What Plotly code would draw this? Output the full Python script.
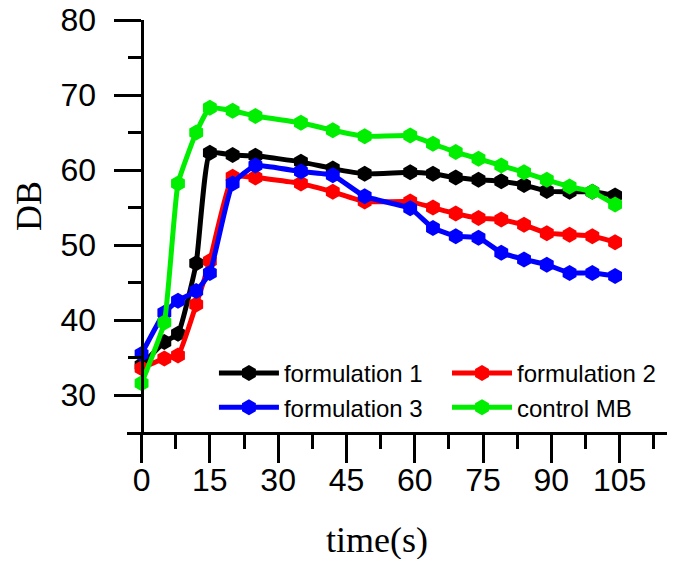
import plotly.graph_objects as go

# sampling times (s), shared by all series
time_s = [0, 5, 8, 12, 15, 20, 25, 35, 42, 49, 59, 64, 69, 74, 79, 84, 89, 94, 99, 104]

formulation_1 = [34.0, 37.1, 38.2, 47.6, 62.3, 62.0, 61.9, 61.1, 60.2, 59.5,
                 59.7, 59.5, 59.0, 58.7, 58.5, 58.0, 57.2, 57.1, 57.1, 56.6]
formulation_2 = [33.6, 34.9, 35.3, 42.1, 47.9, 59.1, 59.0, 58.2, 57.1, 55.8,
                 55.8, 55.0, 54.2, 53.6, 53.4, 52.7, 51.6, 51.4, 51.2, 50.4]
formulation_3 = [35.5, 41.0, 42.6, 43.9, 46.3, 58.2, 60.6, 59.8, 59.3, 56.5,
                 54.9, 52.3, 51.2, 51.0, 49.0, 48.1, 47.4, 46.3, 46.3, 45.9]
control_mb = [31.6, 39.7, 58.2, 65.0, 68.3, 67.9, 67.2, 66.3, 65.3, 64.5,
              64.6, 63.5, 62.4, 61.5, 60.6, 59.7, 58.7, 57.8, 57.1, 55.4]

x_ticks = [0, 15, 30, 45, 60, 75, 90, 105]
y_ticks = [30, 40, 50, 60, 70, 80]

# (name, values, colour, legend) - two legends give the 2x2 layout
series = [
    ("formulation 1", formulation_1, "#000000", "legend"),
    ("formulation 2", formulation_2, "#ff0000", "legend2"),
    ("formulation 3", formulation_3, "#0000ff", "legend"),
    ("control MB", control_mb, "#00ee00", "legend2"),
]

fig = go.Figure()
for name, vals, color, leg in series:
    fig.add_trace(go.Scatter(
        x=time_s, y=vals, name=name, mode="lines+markers",
        line=dict(color=color, width=5, shape="spline", smoothing=0.4),
        marker=dict(symbol="hexagon", size=16, color=color),
        legend=leg,
    ))

X_RANGE = [-3.2, 115.4]
axis_font = dict(family="Liberation Sans, Arial, sans-serif", size=32, color="black")
legend_font = dict(family="Liberation Sans, Arial", size=24, color="black")

# page body has an 8px margin on every side; keep the figure inside the window
OFF = 8
W, H = 659, 551
pl, pr, pt, pb = 119, 0, 12, 127

fig.update_layout(
    width=W, height=H,
    margin=dict(l=pl, r=pr, t=pt, b=pb),
    plot_bgcolor="white", paper_bgcolor="white",
    xaxis=dict(
        range=X_RANGE, tickvals=x_ticks, showgrid=False, zeroline=False, automargin=False,
        showline=True, linecolor="black", linewidth=3,
        ticks="outside", ticklen=28, tickwidth=3, tickcolor="black",
        minor=dict(ticks="outside", ticklen=14, tickwidth=3, tickcolor="black", dtick=7.5, tick0=0),
        tickfont=axis_font, ticklabelstandoff=-10, ticklabeloverflow="allow",
    ),
    yaxis=dict(
        range=[25.1, 80], tickvals=y_ticks, showgrid=False, zeroline=False, automargin=False,
        anchor="free", position=(0 - X_RANGE[0]) / (X_RANGE[1] - X_RANGE[0]),
        showline=True, linecolor="black", linewidth=3,
        ticks="outside", ticklen=27, tickwidth=3, tickcolor="black",
        minor=dict(ticks="outside", ticklen=13, tickwidth=3, tickcolor="black", dtick=5, tick0=0),
        tickfont=axis_font, ticklabelstandoff=11, ticklabeloverflow="allow",
    ),
    # legends must stay inside the figure, otherwise they push the right margin
    legend=dict(x=0.161, y=0.197, xanchor="left", yanchor="top",
                bgcolor="rgba(0,0,0,0)", font=legend_font, itemwidth=60, tracegroupgap=0),
    legend2=dict(x=0.5926, y=0.197, xanchor="left", yanchor="top",
                 bgcolor="rgba(0,0,0,0)", font=legend_font, itemwidth=60, tracegroupgap=0),
    annotations=[
        dict(text="time(s)", x=377, y=540, xref="paper", yref="paper", showarrow=False,
             xanchor="center", yanchor="middle",
             font=dict(family="Liberation Serif, Times New Roman, serif", size=36, color="black")),
        dict(text="DB", x=29, y=206, xref="paper", yref="paper", showarrow=False, textangle=-90,
             xanchor="center", yanchor="middle",
             font=dict(family="Liberation Serif, Times New Roman, serif", size=36, color="black")),
    ],
)

# annotation positions above were given in window pixels; convert to paper fractions
for ann in fig.layout.annotations:
    ann.x = (ann.x - OFF - pl) / (W - pl - pr)
    ann.y = 1 - (ann.y - OFF - pt) / (H - pt - pb)

fig.write_html("out.html")
